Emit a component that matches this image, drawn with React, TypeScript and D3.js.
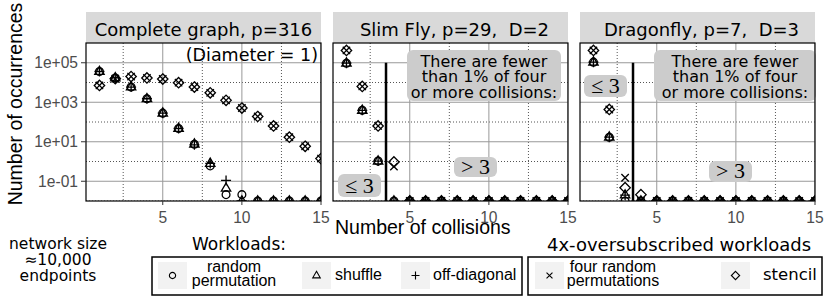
import React from 'react';
import * as d3 from 'd3';

// x = number of collisions
const collisions = [1, 2, 3, 4, 5, 6, 7, 8, 9, 10, 11, 12, 13, 14, 15];

// Complete graph, p=316
const completeRandomPerm = [3.6e4, 1.7e4, 5.9e3, 1.5e3, 280, 47, 7.5, 0.6, 0.021, 0.021, 0, 0, 0, 0, 0];
const completeShuffle = [3.6e4, 1.7e4, 5.9e3, 1.5e3, 280, 47, 7.5, 0.8, 0.044, 0, 0, 0, 0, 0, 0];
const completeOffDiag = [3.6e4, 1.7e4, 5.9e3, 1.5e3, 280, 47, 7.0, 0.8, 0.11, 0, 0, 0, 0, 0, 0];
const completeFourRandom = [7.1e3, 1.55e4, 2.0e4, 1.7e4, 1.5e4, 9.8e3, 5.9e3, 3.0e3, 1.25e3, 510, 190, 63, 17, 5.9, 1.4];
const completeStencil = [7.1e3, 1.55e4, 2.0e4, 1.7e4, 1.5e4, 9.8e3, 5.9e3, 3.0e3, 1.25e3, 510, 190, 63, 17, 5.9, 1.4];

// Slim Fly, p=29, D=2
const slimRandomPerm = [9.5e4, 390, 1.05, 0, 0, 0, 0, 0, 0, 0, 0, 0, 0, 0, 0];
const slimShuffle = [9.5e4, 390, 1.05, 0, 0, 0, 0, 0, 0, 0, 0, 0, 0, 0, 0];
const slimOffDiag = [9.5e4, 390, 1.05, 0, 0, 0, 0, 0, 0, 0, 0, 0, 0, 0, 0];
const slimFourRandom = [4.2e5, 6.3e3, 63, 0.55, 0, 0, 0, 0, 0, 0, 0, 0, 0, 0, 0];
const slimStencil = [4.2e5, 6.3e3, 63, 0.95, 0, 0, 0, 0, 0, 0, 0, 0, 0, 0, 0];

// Dragonfly, p=7, D=3
const dragonRandomPerm = [1.07e5, 17, 0, 0, 0, 0, 0, 0, 0, 0, 0, 0, 0, 0, 0];
const dragonShuffle = [1.07e5, 17, 0.02, 0, 0, 0, 0, 0, 0, 0, 0, 0, 0, 0, 0];
const dragonOffDiag = [1.07e5, 17, 0.02, 0, 0, 0, 0, 0, 0, 0, 0, 0, 0, 0, 0];
const dragonFourRandom = [4.2e5, 430, 0.15, 0, 0, 0, 0, 0, 0, 0, 0, 0, 0, 0, 0];
const dragonStencil = [4.2e5, 430, 0.047, 0.021, 0, 0, 0, 0, 0, 0, 0, 0, 0, 0, 0];

const panelTitles = ['Complete graph, p=316', 'Slim Fly, p=29,\u00a0 D=2', 'Dragonfly, p=7,\u00a0 D=3'];
const xMajor = [5, 10, 15];
const xMinor = [2.5, 7.5, 12.5];
const yMajor = [1e-1, 1e1, 1e3, 1e5];
const yMinor = [1e-2, 1, 1e2, 1e4];
const yTickLabels = ['1e-01', '1e+01', '1e+03', '1e+05'];
const cutoff = 3.5;

const shapes: Record<string, string> = {
  circle: 'M3.9,0A3.9,3.9 0 1,1 -3.9,0A3.9,3.9 0 1,1 3.9,0Z',
  triangle: 'M0,-5.3L4.7,2.9L-4.7,2.9Z',
  plus: 'M-5,0H5M0,-5V5',
  cross: 'M-3.7,-3.7L3.7,3.7M-3.7,3.7L3.7,-3.7',
  diamond: 'M0,-5.2L5.2,0L0,5.2L-5.2,0Z',
};

const panels = [
  [
    { shape: 'circle', values: completeRandomPerm },
    { shape: 'triangle', values: completeShuffle },
    { shape: 'plus', values: completeOffDiag },
    { shape: 'cross', values: completeFourRandom },
    { shape: 'diamond', values: completeStencil },
  ],
  [
    { shape: 'circle', values: slimRandomPerm },
    { shape: 'triangle', values: slimShuffle },
    { shape: 'plus', values: slimOffDiag },
    { shape: 'cross', values: slimFourRandom },
    { shape: 'diamond', values: slimStencil },
  ],
  [
    { shape: 'circle', values: dragonRandomPerm },
    { shape: 'triangle', values: dragonShuffle },
    { shape: 'plus', values: dragonOffDiag },
    { shape: 'cross', values: dragonFourRandom },
    { shape: 'diamond', values: dragonStencil },
  ],
];

const SANS = '"Liberation Sans", Arial, sans-serif';
const DEJA = '"DejaVu Sans", sans-serif';
const SERIF = '"Liberation Serif", "DejaVu Serif", serif';

const W = 235;
const H = 158;
const TOP = 43;
const panelLeft = [86, 333, 580];

const x = d3.scaleLinear().domain([0.15, 15]).range([0, W]);
const y = d3.scaleLog().domain([1e-2, 1e6]).range([H, 0]);
const yv = (v: number) => (v > 0 ? y(v) : H);

const Label = ({ x0, y0, w, h, text, base }: any) => (
  <g>
    <rect x={x0} y={y0} width={w} height={h} rx={6} fill="#cccccc" />
    <text x={x0 + w / 2} y={base} textAnchor="middle" fontFamily={SERIF} fontSize={22}>
      {text}
    </text>
  </g>
);

// annotation box, coordinates relative to the panel
const Note = ({ x0, w }: any) => (
  <g>
    <rect x={x0} y={7} width={w} height={51} rx={6} fill="#cccccc" />
    <text textAnchor="middle" fontFamily={DEJA} fontSize={16}>
      <tspan x={x0 + w / 2} y={23.5}>There are fewer</tspan>
      <tspan x={x0 + w / 2} y={39}>than 1% of four</tspan>
      <tspan x={x0 + w / 2} y={54.5}>or more collisions:</tspan>
    </text>
  </g>
);

const Panel = ({ idx }: { idx: number }) => {
  const left = panelLeft[idx];
  const series = panels[idx];
  return (
    <g transform={`translate(${left},${TOP})`}>
      <rect x={0} y={-31} width={W} height={31} fill="#d9d9d9" />
      <text x={W / 2 + (idx === 0 ? 0 : 4)} y={-7.5} textAnchor="middle" fontFamily={DEJA} fontSize={18}>
        {panelTitles[idx]}
      </text>
      <clipPath id={`clip${idx}`}>
        <rect x={0} y={0} width={W} height={H} />
      </clipPath>
      <g clipPath={`url(#clip${idx})`}>
        {xMinor.map((t) => (
          <line key={'xm' + t} x1={x(t)} x2={x(t)} y1={0} y2={H} stroke="#555" strokeWidth={1} strokeDasharray="1,2" />
        ))}
        {yMinor.map((t) => (
          <line key={'ym' + t} x1={0} x2={W} y1={y(t)} y2={y(t)} stroke="#555" strokeWidth={1} strokeDasharray="1,2" />
        ))}
        {xMajor.map((t) => (
          <line key={'xM' + t} x1={x(t)} x2={x(t)} y1={0} y2={H} stroke="#999" strokeWidth={1} />
        ))}
        {yMajor.map((t) => (
          <line key={'yM' + t} x1={0} x2={W} y1={y(t)} y2={y(t)} stroke="#999" strokeWidth={1} />
        ))}
        {idx > 0 && (
          <line x1={x(cutoff)} x2={x(cutoff)} y1={y(1e5)} y2={H} stroke="#000" strokeWidth={2.5} />
        )}
        {series.map((s) =>
          s.values.map((v, i) => (
            <path
              key={s.shape + i}
              d={shapes[s.shape]}
              transform={`translate(${x(collisions[i])},${yv(v)})`}
              fill="none"
              stroke="#000"
              strokeWidth={1.3}
            />
          ))
        )}
      </g>
      {idx === 0 && (
        <text x={W - 3} y={18} textAnchor="end" fontFamily={DEJA} fontSize={17.5}>
          (Diameter = 1)
        </text>
      )}
      {idx === 1 && (
        <g>
          <Note x0={74} w={154} />
          <Label x0={5} y0={131} w={43} h={23} text="≤ 3" base={149.5} />
          <Label x0={121} y0={114} w={43} h={20} text="> 3" base={130.5} />
        </g>
      )}
      {idx === 2 && (
        <g>
          <Note x0={74} w={162} />
          <Label x0={4} y0={32} w={43} h={22} text="≤ 3" base={49.5} />
          <Label x0={129} y0={118} w={43} h={21} text="> 3" base={134.5} />
        </g>
      )}
      <rect x={0} y={0} width={W} height={H} fill="none" stroke="#000" strokeWidth={1.2} />
      {xMajor.map((t) => (
        <g key={'xt' + t}>
          <line x1={x(t)} x2={x(t)} y1={H} y2={H + 4} stroke="#333" strokeWidth={1} />
          <text x={x(t)} y={H + 22} textAnchor="middle" fontFamily={SANS} fontSize={15.6} fill="#4d4d4d">
            {t}
          </text>
        </g>
      ))}
      {idx === 0 &&
        yMajor.map((t, i) => (
          <g key={'yt' + t}>
            <line x1={-5} x2={0} y1={y(t)} y2={y(t)} stroke="#333" strokeWidth={1} />
            <text x={-8} y={y(t)} dy="0.36em" textAnchor="end" fontFamily={SANS} fontSize={15.6} fill="#4d4d4d">
              {yTickLabels[i]}
            </text>
          </g>
        ))}
    </g>
  );
};

const Key = ({ kx, shape }: { kx: number; shape: string }) => (
  <g>
    <rect x={kx} y={262} width={29} height={27} fill="#f2f2f2" />
    <path d={shapes[shape]} transform={`translate(${kx + 14.5},275.5) scale(0.8)`} fill="none" stroke="#000" strokeWidth={1.4} />
  </g>
);

export default function App() {
  return (
    <svg width={830} height={306} style={{ position: 'absolute', left: 0, top: 0, background: '#fff' }}>
      <rect width={830} height={306} fill="#fff" />
      {[0, 1, 2].map((i) => (
        <Panel key={i} idx={i} />
      ))}
      <text transform="translate(21.5,104) rotate(-90)" textAnchor="middle" fontFamily={SANS} fontSize={19.5}>
        Number of occurrences
      </text>
      <text x={335} y={234} fontFamily={SANS} fontSize={19.5}>
        Number of collisions
      </text>

      <text textAnchor="middle" fontFamily={DEJA} fontSize={15.5}>
        <tspan x={58} y={249}>network size</tspan>
        <tspan x={58} y={265}>≈10,000</tspan>
        <tspan x={58} y={280.5}>endpoints</tspan>
      </text>

      <text x={192} y={250} fontFamily={DEJA} fontSize={17}>
        Workloads:
      </text>
      <rect x={152} y={257} width={370} height={38} fill="#fff" stroke="#000" strokeWidth={1.5} />
      <Key kx={158} shape="circle" />
      <text textAnchor="middle" fontFamily={SANS} fontSize={16}>
        <tspan x={234} y={271.5}>random</tspan>
        <tspan x={234} y={285.5}>permutation</tspan>
      </text>
      <Key kx={302} shape="triangle" />
      <text x={335} y={279.5} fontFamily={SANS} fontSize={16}>
        shuffle
      </text>
      <Key kx={401} shape="plus" />
      <text x={433} y={279.5} fontFamily={SANS} fontSize={16}>
        off-diagonal
      </text>

      <text x={547} y={251} fontFamily={DEJA} fontSize={18}>
        4x-oversubscribed workloads
      </text>
      <rect x={528} y={257} width={294} height={38} fill="#fff" stroke="#000" strokeWidth={1.5} />
      <Key kx={535} shape="cross" />
      <text textAnchor="middle" fontFamily={SANS} fontSize={16}>
        <tspan x={613} y={271.5}>four random</tspan>
        <tspan x={613} y={285.5}>permutations</tspan>
      </text>
      <Key kx={721} shape="diamond" />
      <text x={763} y={279.5} fontFamily={DEJA} fontSize={16.5}>
        stencil
      </text>
    </svg>
  );
}
